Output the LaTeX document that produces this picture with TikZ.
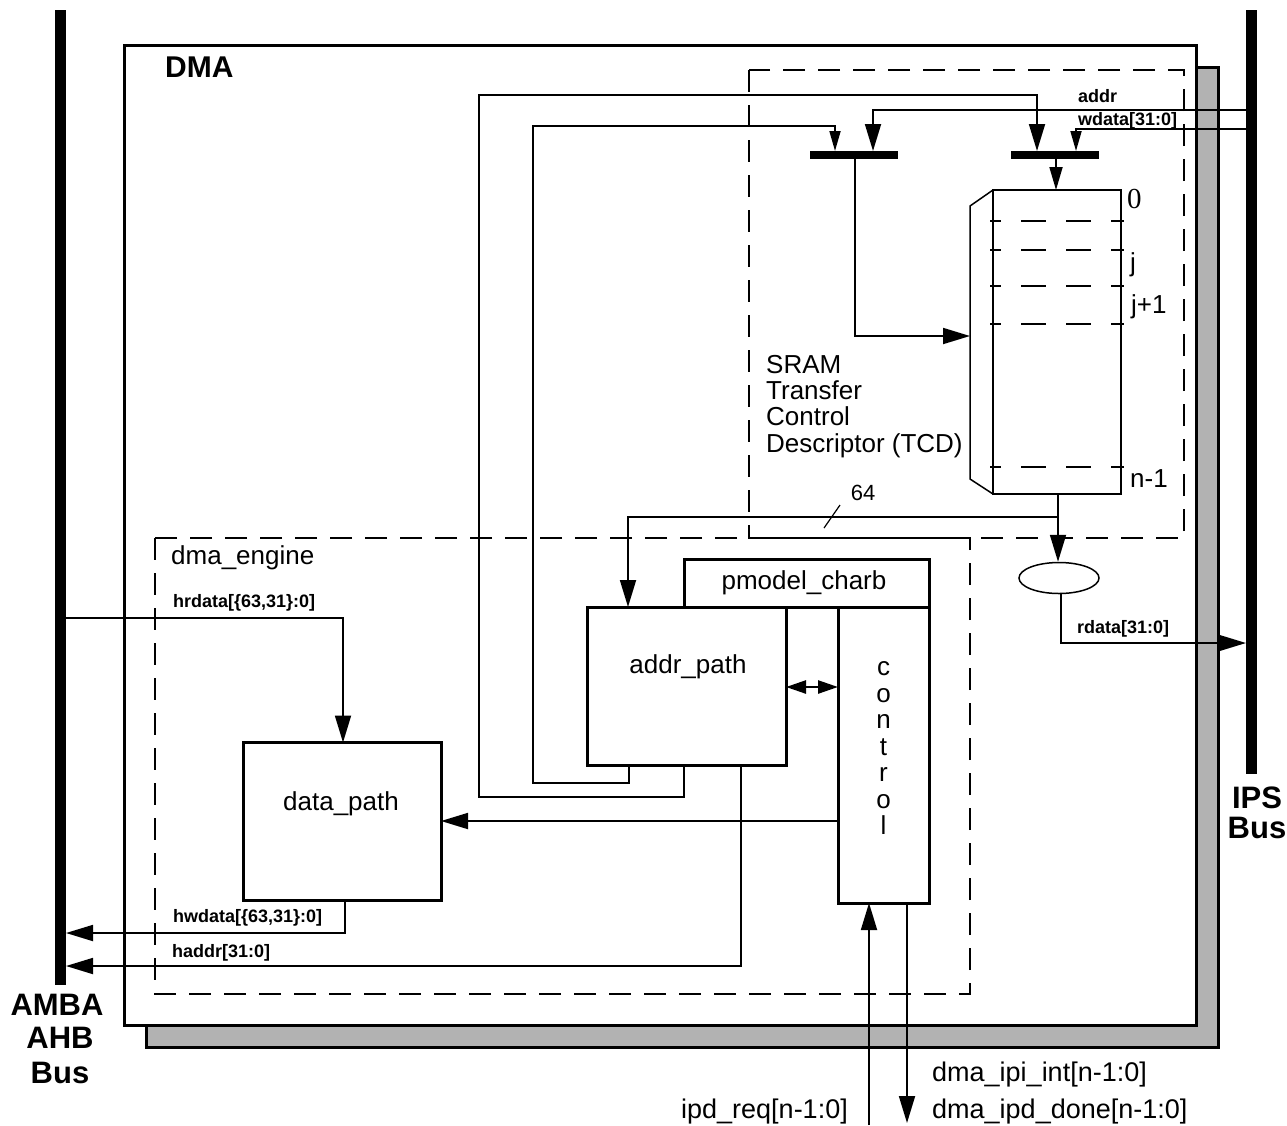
\documentclass[tikz,border=0pt]{standalone}
\usepackage{fontspec}
\setmainfont{Liberation Sans}
\newfontfamily\serifz{Liberation Serif}
\usetikzlibrary{arrows.meta,shapes.geometric}
\begin{document}
\begin{tikzpicture}[x=1pt,y=-1pt,
  conn/.style={line width=1.8pt},
  bigA/.style={-{Triangle[length=27pt,width=16pt]}},
  midA/.style={-{Triangle[length=23pt,width=13pt]}},
  smallA/.style={-{Triangle[length=20pt,width=11pt]}},
  blockbox/.style={draw, line width=3pt, fill=white, inner sep=0pt, outer sep=0pt},
  dashbox/.style={dash pattern=on 22pt off 13pt, line width=1.8pt},
  lbl/.style={font=\fontsize{26}{30}\selectfont, inner sep=0pt},
  plbl/.style={font=\fontsize{27}{30}\selectfont, inner sep=0pt},
  blbl/.style={font=\bfseries\fontsize{18}{21}\selectfont, inner sep=0pt},
  hlbl/.style={font=\bfseries\fontsize{31}{34}\selectfont, inner sep=0pt},
  busbar/.style={fill=black, inner sep=0pt, outer sep=0pt, minimum width=11pt},
  muxbar/.style={fill=black, inner sep=0pt, outer sep=0pt, minimum width=88pt, minimum height=8pt},
  sramdash/.style={line width=1.8pt, dash pattern=on 25pt off 20pt, dash phase=14pt}
]
\useasboundingbox (0,0) rectangle (1287,1125);

% shadow and DMA box
\node[draw, line width=3pt, fill=black!30, inner sep=0pt, outer sep=0pt,
      minimum width=1072pt, minimum height=980pt] (shadow) at (682,557) {};
\node[draw, line width=3pt, fill=white, inner sep=0pt, outer sep=0pt,
      minimum width=1072pt, minimum height=980pt] (dma) at (660,535) {};

% dashed regions
\draw[dashbox] (749,70) rectangle (1184,538);
\draw[dashbox] (155,538) rectangle (970,994);

% buses
\node[busbar, minimum height=975pt] (amba) at (60.5,497.5) {};
\node[busbar, minimum height=764pt] (ips) at (1251.5,392) {};

% blocks
\node[blockbox, minimum width=198pt, minimum height=158pt] (dp) at (342,821.5) {};
\node[blockbox, minimum width=199pt, minimum height=158pt] (ap) at (686.5,686) {};
\node[blockbox, minimum width=245pt, minimum height=48pt] (pm) at (806.5,583) {};
\node[blockbox, minimum width=91pt, minimum height=296pt] (ct) at (883.5,755) {};

% SRAM
\node[draw, line width=2.2pt, fill=white, inner sep=0pt, outer sep=0pt,
      minimum width=128pt, minimum height=304pt] (sram) at (1057,342) {};
\coordinate (bevt) at (970,206);
\coordinate (bevb) at (970,479);
\draw[line width=1.5pt] (sram.north west) -- (bevt) -- (bevb) -- (sram.south west);
\foreach \yy in {221,250,286,324,467} \draw[sramdash] (990,\yy) -- (1124,\yy);

% mux bars and ellipse
\node[muxbar] (muxL) at (854,155) {};
\node[muxbar] (muxR) at (1054.5,155) {};
\node[draw, ellipse, line width=1.5pt, inner sep=0pt, minimum width=80pt, minimum height=31pt] (el) at (1059,578) {};

% texts
\node[hlbl, anchor=base west, font=\bfseries\fontsize{30}{34}\selectfont] (tdma) at (165,77) {DMA};
\node[lbl, anchor=base west] (teng) at (171,564) {dma\_engine};
\node[lbl, anchor=base] (tdp) at (341,810) {data\_path};
\node[lbl, anchor=base] (tap) at (688,673) {addr\_path};
\node[lbl, anchor=base] (tpm) at (804,589) {pmodel\_charb};
\node[lbl, align=center, font=\fontsize{26}{26.5}\selectfont] (tct) at (883.5,748) {c\\o\\n\\t\\r\\o\\l};
\node[lbl, anchor=base west] (ts1) at (766,373) {SRAM};
\node[lbl, anchor=base west] (ts2) at (766,399) {Transfer};
\node[lbl, anchor=base west] (ts3) at (766,425) {Control};
\node[lbl, anchor=base west] (ts4) at (766,452) {Descriptor (TCD)};
\node[lbl, anchor=base west, font=\serifz\fontsize{29}{32}\selectfont] (t0) at (1127,208) {0};
\node[lbl, anchor=base west] (tj) at (1130,271) {j};
\node[lbl, anchor=base west] (tj1) at (1131,313) {j+1};
\node[lbl, anchor=base west] (tn1) at (1130,487) {n-1};
\node[lbl, font=\fontsize{22}{26}\selectfont] (t64) at (863,493) {64};
\node[blbl, anchor=base west] (taddr) at (1078,102) {addr};
\node[blbl, anchor=base west] (twdata) at (1078,125) {wdata[31:0]};
\node[blbl, anchor=base west] (trdata) at (1077,633) {rdata[31:0]};
\node[blbl, anchor=base west] (thr) at (173,607) {hrdata[\{63,31\}:0]};
\node[blbl, anchor=base west] (thw) at (173,922) {hwdata[\{63,31\}:0]};
\node[blbl, anchor=base west] (tha) at (172,957) {haddr[31:0]};
\node[hlbl, anchor=base] (tam1) at (57,1015) {AMBA};
\node[hlbl, anchor=base] (tam2) at (60,1048) {AHB};
\node[hlbl, anchor=base] (tam3) at (60,1083) {Bus};
\node[hlbl, anchor=base] (tips1) at (1257,808) {IPS};
\node[hlbl, anchor=base] (tips2) at (1257,838) {Bus};
\node[plbl, anchor=base west] (tint) at (932,1081) {dma\_ipi\_int[n-1:0]};
\node[plbl, anchor=base west] (tdone) at (932,1118) {dma\_ipd\_done[n-1:0]};
\node[plbl, anchor=base east] (treq) at (848,1118) {ipd\_req[n-1:0]};

% connectors
\coordinate (hr) at (343,618);
\draw[conn, bigA] (amba.east |- hr) -- (hr) -- (hr |- dp.north);
\coordinate (hw) at (345,933);
\draw[conn, bigA] (hw |- dp.south) -- (hw) -- (amba.east |- hw);
\coordinate (ha) at (741,966);
\draw[conn, bigA] (ha |- ap.south) -- (ha) -- (amba.east |- ha);
\coordinate (cd) at (838,821);
\draw[conn, bigA] (ct.west |- cd) -- (dp.east |- cd);
\coordinate (da) at (800,687);
\draw[line width=2.5pt, {Triangle[length=20pt,width=13pt]}-{Triangle[length=20pt,width=13pt]}] (ap.east |- da) -- (ct.west |- da);

\coordinate (i1) at (629,783);
\coordinate (i2) at (533,126);
\coordinate (i3) at (835,126);
\draw[conn, smallA] (i1 |- ap.south) -- (i1) -| (i2) -- (i3) -- (i3 |- muxL.north);
\coordinate (o1) at (684,797);
\coordinate (o2) at (479,95);
\coordinate (o3) at (1037,95);
\draw[conn, bigA] (o1 |- ap.south) -- (o1) -| (o2) -- (o3) -- (o3 |- muxR.north);
\coordinate (a1) at (873,110);
\draw[conn, bigA] (ips.west |- a1) -- (a1) -- (a1 |- muxL.north);
\coordinate (w1) at (1076,129);
\draw[conn, smallA] (ips.west |- w1) -- (w1) -- (w1 |- muxR.north);
\coordinate (mr) at (1056,170);
\draw[conn, midA] (mr |- muxR.south) -- (mr |- sram.north);
\coordinate (m1) at (855,336);
\coordinate (side) at (970,336);
\draw[conn, bigA] (m1 |- muxL.south) -- (m1) -- (side);
\coordinate (jn) at (1058,517);
\coordinate (kn) at (628,517);
\draw[conn, bigA] (jn |- sram.south) -- (jn) -- (kn) -- (kn |- ap.north);
\draw[conn, bigA] (jn) -- (jn |- el.north);
\coordinate (r1) at (1061,643);
\draw[conn, bigA] (r1 |- el.south) -- (r1) -- (ips.west |- r1);
\draw[line width=1.2pt] (824,528) -- (840,505);
\coordinate (q) at (869,1125);
\draw[conn, bigA] (q) -- (q |- ct.south);
\coordinate (dn) at (907,1123);
\draw[conn, bigA] (dn |- ct.south) -- (dn);
\end{tikzpicture}
\end{document}
